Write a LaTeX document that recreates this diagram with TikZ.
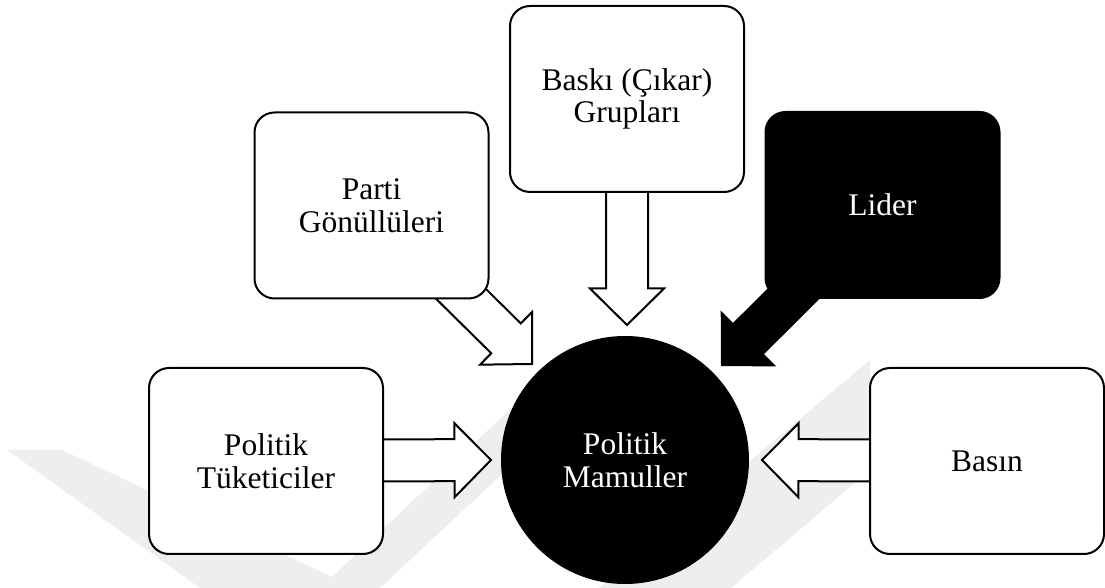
\documentclass[tikz,border=0pt]{standalone}
\usepackage{fontspec}
\setmainfont{Liberation Serif}
\usetikzlibrary{calc}
\pgfdeclarelayer{wm}
\pgfdeclarelayer{bg}
\pgfsetlayers{wm,bg,main}
\definecolor{wmgray}{HTML}{EEEEEE}
% block arrow from source node #2 to tip coordinate #3
\newcommand\blockarr[3][hollowarrow]{%
  \coordinate (#3-h) at ($(#3)!18.25pt!(#2.center)$);
  \path[#1] (#3)
    -- ($(#3-h)!18.5pt!90:(#2.center)$)
    -- ($(#3-h)!10.5pt!90:(#2.center)$)
    -- ($(#2.center)!10.5pt!-90:(#3)$)
    -- ($(#2.center)!10.5pt!90:(#3)$)
    -- ($(#3-h)!10.5pt!-90:(#2.center)$)
    -- ($(#3-h)!18.5pt!-90:(#2.center)$)
    -- cycle;
}
\begin{document}
\begin{tikzpicture}[x=0.5pt,y=-0.5pt,line width=1pt,
  font=\fontsize{15.75pt}{16.25pt}\selectfont,
  box/.style={draw=black, rounded corners=10pt, fill=white, minimum width=117pt,
    minimum height=93pt, align=center, inner sep=0pt},
  darkbox/.style={box, fill=black, text=white},
  hub/.style={circle, fill=black, text=white, minimum size=124pt, inner sep=0pt, align=center},
  hollowarrow/.style={draw=black, fill=white, line width=1pt, line join=miter},
  solidarrow/.style={draw=black, fill=black, line width=1pt, line join=miter},
  watermark/.style={fill=wmgray, draw=none}]
\useasboundingbox (0,0) rectangle (1105,588);

% nodes
\node[box] (cons) at (266,461) {Politik\\Tüketiciler};
\node[box] (basin) at (987,461) {Basın};
\node[box] (parti) at (371.5,205.5) {Parti\\Gönüllüleri};
\node[box] (baski) at (627,99) {Baskı (Çıkar)\\Grupları};
\node[darkbox] (lider) at (882.5,205) {Lider};
\node[hub] (hub) at (625,460) {Politik\\Mamuller};

% arrow tips
\coordinate (tcons) at (491,460);
\coordinate (tbasin) at (762,460);
\coordinate (tbaski) at (627,325);
\coordinate (tparti) at (532,364);
\coordinate (tlider) at (722,365);

\begin{pgfonlayer}{bg}
  \blockarr{cons}{tcons}
  \blockarr{basin}{tbasin}
  \blockarr{baski}{tbaski}
  \blockarr{parti}{tparti}
  \blockarr[solidarrow]{lider}{tlider}
\end{pgfonlayer}

\begin{pgfonlayer}{wm}
  \path[watermark] (7,450) -- (62,450) -- (332,577) -- (520,400) -- (560,420)
    -- (380,588) -- (200,588) -- cycle;
  \path[watermark] (599,588) -- (870,360) -- (870,470) -- (731,588) -- cycle;
\end{pgfonlayer}
\end{tikzpicture}
\end{document}
